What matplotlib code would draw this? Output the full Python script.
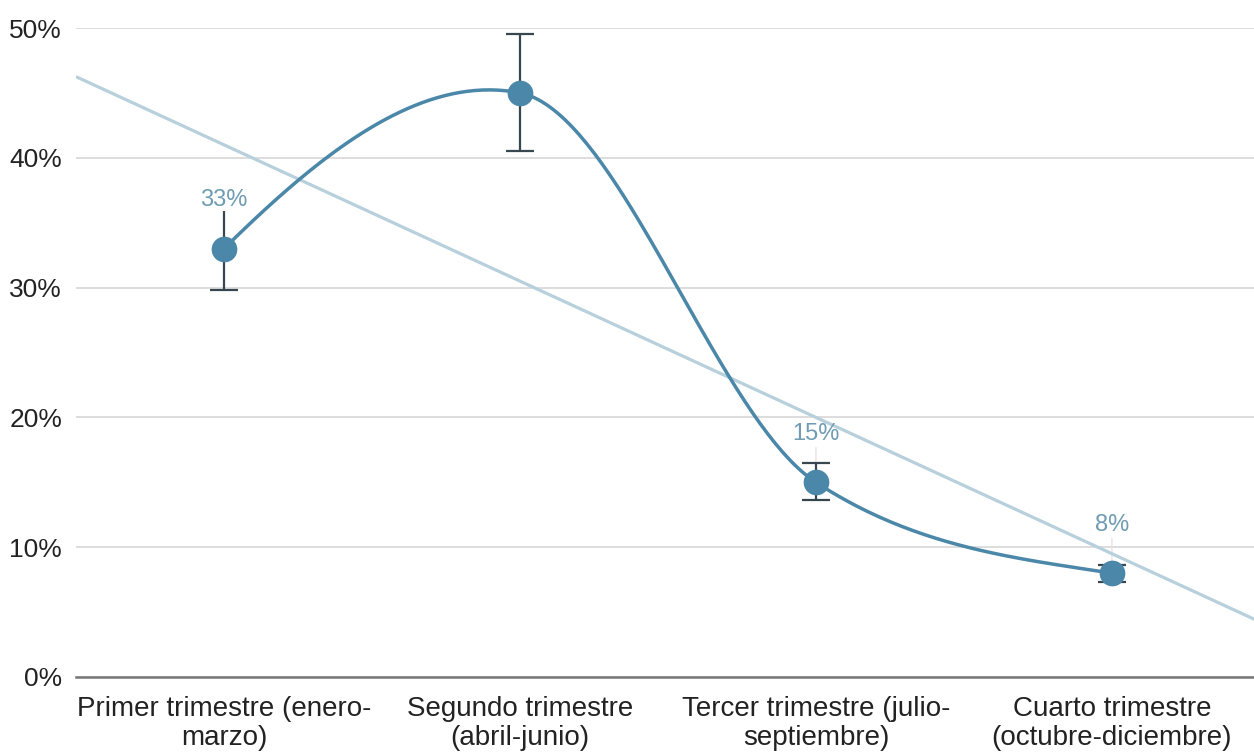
import numpy as np
import matplotlib
matplotlib.use("Agg")
import matplotlib.pyplot as plt
from matplotlib.ticker import FuncFormatter

categories = ["Primer trimestre (enero-\nmarzo)", "Segundo trimestre\n(abril-junio)",
              "Tercer trimestre (julio-\nseptiembre)", "Cuarto trimestre\n(octubre-diciembre)"]
values = [33, 45, 15, 8]
err_low = [3.2, 4.5, 1.4, 0.7]
err_high = [2.9, 4.5, 1.5, 0.6]
labels_shown = [True, False, True, True]
yticks = [0, 10, 20, 30, 40, 50]

LINE = "#4a87a8"
TREND = "#b7d0dc"
ERR = "#37474f"
LABEL = "#6f9cb2"

plt.rcParams['font.family'] = ['Liberation Sans', 'DejaVu Sans']

fig = plt.figure(figsize=(12.54, 7.52), dpi=100)
ax = fig.add_axes([76/1254, 75/752, 1 - 76/1254, (677-28)/752])

x = np.arange(len(values), dtype=float)
y = np.array(values, dtype=float)

# smooth curve: cubic Hermite, tangents = mean of Catmull-Rom and PCHIP tangents
d = np.diff(y)
cr = np.zeros_like(y)
cr[0] = d[0]; cr[-1] = d[-1]
cr[1:-1] = (y[2:] - y[:-2]) / 2
pc = np.zeros_like(y)
for i in range(1, len(y) - 1):
    if d[i-1] * d[i] > 0:
        pc[i] = 2.0 / (1.0/d[i-1] + 1.0/d[i])
def _end(d0, d1):
    mm = (3*d0 - d1) / 2
    if np.sign(mm) != np.sign(d0):
        return 0.0
    if np.sign(d0) != np.sign(d1) and abs(mm) > abs(3*d0):
        return 3*d0
    return mm
pc[0] = _end(d[0], d[1]); pc[-1] = _end(d[-1], d[-2])
m = 0.5 * (cr + pc)

xs, ys = [], []
for i in range(len(y) - 1):
    t = np.linspace(0, 1, 80)
    h00 = 2*t**3 - 3*t**2 + 1
    h10 = t**3 - 2*t**2 + t
    h01 = -2*t**3 + 3*t**2
    h11 = t**3 - t**2
    xs.append(x[i] + t)
    ys.append(h00*y[i] + h10*m[i] + h01*y[i+1] + h11*m[i+1])
xs = np.concatenate(xs); ys = np.concatenate(ys)

xlim = (-0.5, 3.48)
ax.set_xlim(*xlim)
ax.set_ylim(0, 50)

# linear trendline
coef = np.polyfit(x, y, 1)
tx = np.array([xlim[0], xlim[1] + 0.05])
ax.plot(tx, np.polyval(coef, tx), color=TREND, lw=2.3, zorder=2, solid_capstyle='butt')

ax.plot(xs, ys, color=LINE, lw=2.5, zorder=3)
ax.errorbar(x, y, yerr=[err_low, err_high], fmt='none', ecolor=ERR, elinewidth=1.6,
            capsize=0, zorder=4)
lo = y - np.array(err_low)
hi = y + np.array(err_high)
ax.plot(x, lo, '_', color=ERR, markersize=20, mew=1.6, zorder=4)
# top caps hidden when covered by the value label
px_per_unit = (677 - 28) / 50.0
label_off_px = 35 * 100 / 72
cap_visible = [not (s and e * px_per_unit > label_off_px - 14)
               for s, e in zip(labels_shown, err_high)]
ax.plot(x[cap_visible], hi[cap_visible], '_', color=ERR, markersize=20, mew=1.6, zorder=4)
ax.plot(x, y, 'o', color=LINE, markersize=18.5, zorder=5, markeredgewidth=0)

for xi, yi, show in zip(x, y, labels_shown):
    if show:
        ax.annotate(f"{int(yi)}%", (xi, yi), xytext=(0, 35), textcoords='offset points',
                    ha='center', va='center', fontsize=17, color=LABEL, zorder=6)
        ax.annotate("", (xi, yi), xytext=(0, 25), textcoords='offset points',
                    arrowprops=dict(arrowstyle='-', color='#eadede', lw=0.9,
                                    shrinkA=0, shrinkB=0), zorder=1.5)

ax.set_yticks(yticks)
ax.yaxis.set_major_formatter(FuncFormatter(lambda v, p: f"{int(v)}%"))
ax.set_xticks(x)
ax.set_xticklabels(categories, fontsize=20, color="#222222", linespacing=1.15)
ax.tick_params(axis='y', labelsize=19, colors="#222222", length=0, pad=10)
ax.tick_params(axis='x', length=0, pad=14)
ax.grid(axis='y', color='#d3d3d3', lw=1.1)
ax.set_axisbelow(True)
for s in ['top', 'right', 'left']:
    ax.spines[s].set_visible(False)
ax.spines['bottom'].set_color('#777777')
ax.spines['bottom'].set_linewidth(1.8)
ax.spines['bottom'].set_zorder(2.5)

fig.savefig("out.png", dpi=100)
